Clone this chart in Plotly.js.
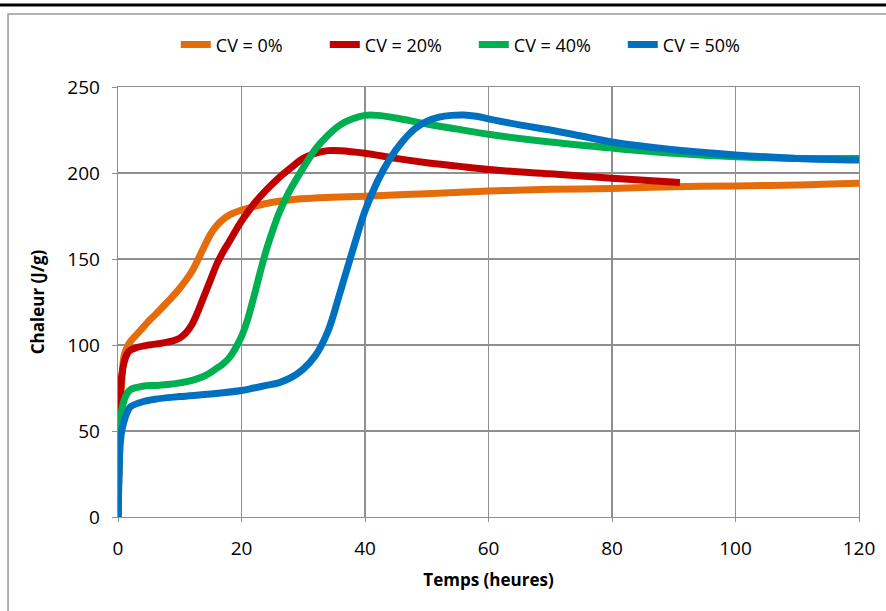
<!DOCTYPE html>
<html>
<head>
<meta charset="utf-8">
<script src="https://cdn.plot.ly/plotly-3.0.1.min.js"></script>
<style>html,body{margin:0;padding:0;background:#fff;}#chart{width:886px;height:611px;}</style>
</head>
<body>
<div id="chart"></div>
<script>
// Series names
const seriesNames = ["CV = 0%", "CV = 20%", "CV = 40%", "CV = 50%"];

// CV = 0%
const t0 = [0, 0.1, 0.3, 0.6, 1, 1.5, 2, 3, 4, 5, 6, 8, 10, 12, 13, 14, 15, 16, 17, 18, 20, 22, 25, 28, 32, 36, 40, 50, 60, 70, 80, 90, 100, 110, 120];
const v0 = [0, 20, 50, 78, 94, 99, 102, 106, 110, 114, 117.5, 125, 133, 143, 150, 157.5, 164.5, 169.5, 173, 175.5, 178.5, 180.5, 183, 184.5, 185.5, 186, 186.5, 188, 189.5, 190.5, 191, 192, 192.5, 193, 194];

// CV = 20%
const t20 = [0, 0.1, 0.3, 0.6, 1, 1.5, 2, 3, 5, 7, 9, 10, 11, 12, 13, 14, 15, 16, 17, 18, 20, 22, 24, 26, 28, 30, 32, 34, 36, 40, 45, 50, 55, 60, 70, 80, 91];
const v20 = [0, 25, 65, 82, 90, 95, 97, 98.5, 100, 101, 102.5, 104, 107, 112, 120, 129, 138, 147, 154, 160, 172, 182, 190, 197, 203, 208.5, 211.5, 213, 213, 211.5, 208.5, 206, 204, 202, 199.5, 197, 194.5];

// CV = 40%
const t40 = [0, 0.1, 0.3, 0.6, 1, 1.5, 2, 4, 6, 8, 10, 12, 14, 15, 16, 17, 18, 19, 20, 21, 22, 23, 24, 25, 26, 27, 28, 30, 32, 34, 36, 38, 40, 42, 45, 50, 55, 60, 70, 80, 90, 100, 110, 120];
const v40 = [0, 20, 49, 62, 68, 72, 74, 76, 76.5, 77, 78, 79.5, 82, 84, 86.5, 89, 92.5, 98, 105, 115, 128, 142, 155, 166, 176, 184, 191, 203, 214, 222, 228, 231.5, 233.5, 233.5, 232, 228.5, 225.5, 222.5, 218, 214.5, 211.5, 209.5, 208.5, 208.5];

// CV = 50%
const t50 = [0, 0.1, 0.3, 0.6, 1, 1.5, 2, 4, 6, 10, 15, 20, 22, 24, 26, 28, 30, 32, 34, 36, 38, 40, 42, 44, 46, 48, 50, 52, 54, 56, 58, 60, 65, 70, 75, 80, 90, 100, 110, 120];
const v50 = [0, 15, 39, 50, 56, 61, 64, 67, 68.5, 70, 71.5, 73.5, 75, 76.5, 78, 81, 86, 94, 108, 131, 155, 178, 195, 208, 218, 225.5, 230, 232.5, 233.5, 233.7, 233, 231.5, 228, 225, 221.5, 218, 213.5, 210.5, 208.5, 207.5];

// Axis ticks
const xTicks = [0, 20, 40, 60, 80, 100, 120];
const yTicks = [0, 50, 100, 150, 200, 250];

const colors = ["#E46C0A", "#C00000", "#00B050", "#0070C0"];
const xs = [t0, t20, t40, t50];
const ys = [v0, v20, v40, v50];

const traces = xs.map((x, i) => ({
  type: "scatter",
  mode: "lines",
  name: seriesNames[i],
  x: x,
  y: ys[i],
  line: {color: colors[i], width: 7, shape: "spline", smoothing: 1}
}));

const font = "Open Sans, sans-serif";
const layout = {
  width: 886, height: 611,
  margin: {l: 118, r: 27, t: 87, b: 94},
  paper_bgcolor: "#fff", plot_bgcolor: "#fff",
  font: {family: font, size: 18, color: "#000"},
  showlegend: true,
  legend: {
    orientation: "h", x: 0.078, xanchor: "left", y: 1.098, yanchor: "middle",
    font: {family: font, size: 18, color: "#000"},
    entrywidth: 104, entrywidthmode: "pixels", itemwidth: 30,
    bgcolor: "rgba(0,0,0,0)"
  },
  xaxis: {
    range: [0, 120], tickvals: xTicks, ticktext: xTicks.map(String),
    showgrid: true, gridcolor: "#8f8f8f", gridwidth: 1.3,
    showline: true, linecolor: "#8f8f8f", linewidth: 1.3, mirror: true,
    ticks: "outside", ticklen: 4, tickcolor: "#8f8f8f",
    ticklabelstandoff: 10,
    tickfont: {family: font, size: 19, color: "#000"},
    zeroline: false,
    title: {text: "Temps (heures)", font: {family: font, size: 17, color: "#000", weight: "bold"}, standoff: 14}
  },
  yaxis: {
    range: [0, 250], tickvals: yTicks, ticktext: yTicks.map(String),
    showgrid: true, gridcolor: "#8f8f8f", gridwidth: 1.3,
    showline: true, linecolor: "#8f8f8f", linewidth: 1.3, mirror: true,
    ticks: "outside", ticklen: 5, tickcolor: "#8f8f8f",
    ticklabelstandoff: 8,
    tickfont: {family: font, size: 19, color: "#000"},
    zeroline: false,
    title: {text: "Chaleur (J/g)", font: {family: font, size: 17, color: "#000", weight: "bold"}, standoff: 18}
  },
  shapes: [
    {type: "line", xref: "paper", yref: "paper", x0: -0.2, x1: 1.1, y0: 1.1907, y1: 1.1907,
     line: {color: "#000", width: 3}},
    {type: "rect", xref: "paper", yref: "paper", x0: -0.1484, x1: 1.06, y0: -0.25, y1: 1.1698,
     line: {color: "#9a9a9a", width: 1.5}, fillcolor: "rgba(0,0,0,0)", layer: "below"}
  ]
};

Plotly.newPlot("chart", traces, layout, {displayModeBar: false, staticPlot: true});
</script>
</body>
</html>
